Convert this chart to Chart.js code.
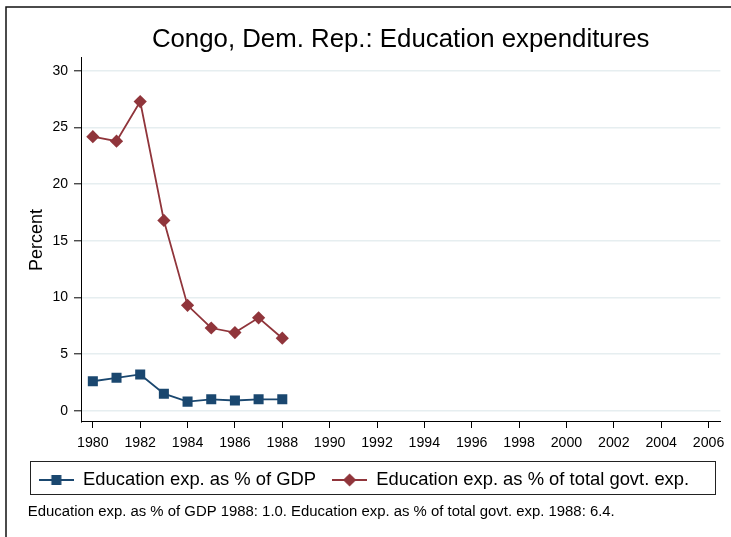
<!DOCTYPE html>
<html>
<head>
<meta charset="utf-8">
<script src="https://cdn.jsdelivr.net/npm/chart.js@4.4.0/dist/chart.umd.min.js"></script>
<style>
  html, body { margin: 0; padding: 0; background: #fff; }
  #wrap { width: 731px; height: 537px; }
</style>
</head>
<body>
<div id="wrap"><canvas id="chart" width="731" height="537"></canvas></div>
<script>
const years = [1980, 1981, 1982, 1983, 1984, 1985, 1986, 1987, 1988];
const gdpShare = [2.6, 2.9, 3.2, 1.5, 0.8, 1.0, 0.9, 1.0, 1.0];
const govtShare = [24.2, 23.8, 27.3, 16.8, 9.3, 7.3, 6.9, 8.2, 6.4];
const xTicks = [1980, 1982, 1984, 1986, 1988, 1990, 1992, 1994, 1996, 1998, 2000, 2002, 2004, 2006];
const yTicks = [0, 5, 10, 15, 20, 25, 30];
const seriesNames = ['Education exp. as % of GDP', 'Education exp. as % of total govt. exp.'];
const chartTitle = 'Congo, Dem. Rep.: Education expenditures';

const NAVY = '#1a476f';
const MAROON = '#90353b';
const FONT = '"Liberation Sans", Arial, Helvetica, sans-serif';

const lastYear = years[years.length - 1];
const footnote = `${seriesNames[0]} ${lastYear}: ${gdpShare[gdpShare.length - 1].toFixed(1)}. ` +
  `${seriesNames[1]} ${lastYear}: ${govtShare[govtShare.length - 1].toFixed(1)}.`;

// small line + marker glyph for the legend, drawn with the library's point helper
function legendSymbol(color, pointStyle, radius) {
  const c = document.createElement('canvas');
  c.width = 35;
  c.height = 18;
  const ctx = c.getContext('2d');
  ctx.strokeStyle = color;
  ctx.lineWidth = 1.8;
  ctx.beginPath();
  ctx.moveTo(0, c.height / 2);
  ctx.lineTo(c.width, c.height / 2);
  ctx.stroke();
  ctx.fillStyle = color;
  Chart.helpers.drawPoint(ctx, { pointStyle, radius, rotation: 0, borderWidth: 0 }, c.width / 2, c.height / 2);
  return c;
}

const markers = [
  { color: NAVY, style: 'rect', radius: 7.1 },
  { color: MAROON, style: 'rectRot', radius: 6.6 },
];

const decorations = {
  id: 'decorations',
  beforeDraw(chart) {
    const { ctx } = chart;
    ctx.save();
    ctx.strokeStyle = '#111';
    ctx.lineWidth = 1.5;
    ctx.beginPath();
    ctx.moveTo(6, chart.height);
    ctx.lineTo(6, 7);
    ctx.lineTo(chart.width, 7);
    ctx.stroke();
    ctx.restore();
  },
  afterDraw(chart) {
    const boxes = chart.legend.legendHitBoxes;
    if (!boxes || !boxes.length) return;
    const first = boxes[0];
    const last = boxes[boxes.length - 1];
    const left = first.left - 9;
    const right = last.left + last.width + 26;
    const top = first.top - 10;
    const bottom = first.top + first.height + 5;
    const { ctx } = chart;
    ctx.save();
    ctx.strokeStyle = '#222';
    ctx.lineWidth = 1;
    ctx.strokeRect(Math.round(left) + 0.5, Math.round(top) + 0.5, Math.round(right - left), Math.round(bottom - top));
    ctx.fillStyle = '#000';
    ctx.font = `14.9px ${FONT}`;
    ctx.textBaseline = 'middle';
    ctx.textAlign = 'left';
    ctx.fillText(footnote, left - 2, bottom + 18);
    ctx.restore();
  },
};

const series = [gdpShare, govtShare].map((values, i) => ({
  label: seriesNames[i],
  data: years.map((year, j) => ({ x: year, y: values[j] })),
  borderColor: markers[i].color,
  backgroundColor: markers[i].color,
  borderWidth: 1.8,
  pointStyle: markers[i].style,
  pointRadius: markers[i].radius,
  pointBorderWidth: 0,
  tension: 0,
}));

new Chart(document.getElementById('chart'), {
  type: 'line',
  data: { datasets: series },
  options: {
    responsive: false,
    animation: false,
    layout: { padding: { left: 6, right: 9, top: 24.5, bottom: 37.8 } },
    plugins: {
      title: {
        display: true,
        text: chartTitle,
        fullSize: false,
        color: '#000',
        font: { family: FONT, size: 25.8, weight: 'normal' },
        padding: { top: 0, bottom: 2.5 },
      },
      legend: {
        position: 'bottom',
        labels: {
          color: '#000',
          font: { family: FONT, size: 18.4 },
          padding: 16,
          usePointStyle: true,
          pointStyleWidth: 35,
          generateLabels(chart) {
            const items = Chart.defaults.plugins.legend.labels.generateLabels(chart);
            return items.map((item, i) => ({
              ...item,
              pointStyle: legendSymbol(markers[i].color, markers[i].style, markers[i].radius),
            }));
          },
        },
      },
      tooltip: { enabled: false },
    },
    scales: {
      x: {
        type: 'linear',
        min: 1979.5,
        max: 2006.5,
        afterBuildTicks: (scale) => { scale.ticks = xTicks.map((v) => ({ value: v })); },
        afterFit: (scale) => { scale.height = 32.8; },
        ticks: {
          callback: (v) => String(v),
          color: '#000',
          font: { family: FONT, size: 14.2 },
          padding: 6.5,
          maxRotation: 0,
          autoSkip: false,
        },
        grid: { drawOnChartArea: false, tickLength: 6, tickColor: '#000', tickWidth: 1 },
        border: { color: '#000', width: 1 },
      },
      y: {
        min: -1,
        max: 31.15,
        afterBuildTicks: (scale) => { scale.ticks = yTicks.map((v) => ({ value: v })); },
        afterFit: (scale) => { scale.width = 75; },
        title: {
          display: true,
          text: 'Percent',
          color: '#000',
          font: { family: FONT, size: 18 },
          padding: { top: 20, bottom: 0 },
        },
        ticks: {
          callback: (v) => String(v),
          color: '#000',
          font: { family: FONT, size: 14 },
          padding: 6,
        },
        grid: { color: '#e6eef0', lineWidth: 1.6, tickLength: 7, tickColor: '#000', tickWidth: 1 },
        border: { color: '#000', width: 1 },
      },
    },
  },
  plugins: [decorations],
});
</script>
</body>
</html>
